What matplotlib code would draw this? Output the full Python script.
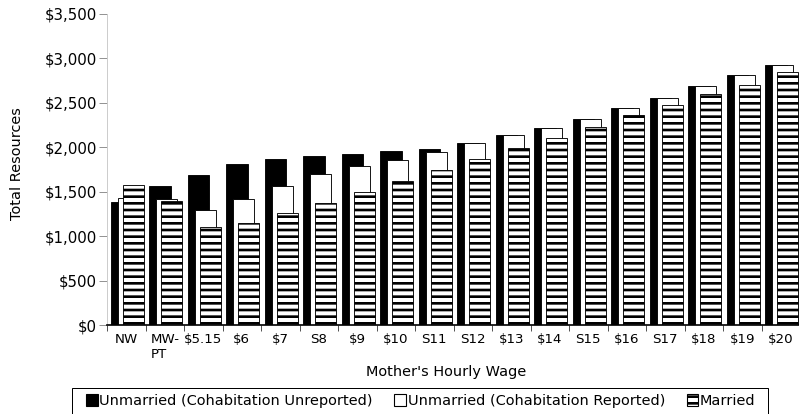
import matplotlib.pyplot as plt
import numpy as np
from matplotlib.patches import Patch, Rectangle
from matplotlib.ticker import FuncFormatter

plt.rcParams['font.family'] = 'DejaVu Sans'
plt.rcParams['hatch.linewidth'] = 2.4
plt.rcParams['hatch.color'] = 'black'

wages = ['NW', 'MW-\nPT', '$5.15', '$6', '$7', 'S8', '$9', '$10', 'S11', 'S12',
         '$13', '$14', 'S15', '$16', 'S17', '$18', '$19', '$20']
unreported = [1380, 1560, 1690, 1810, 1865, 1900, 1920, 1960, 1980, 2045,
              2135, 2220, 2315, 2445, 2555, 2690, 2810, 2925]
reported = [1430, 1420, 1295, 1415, 1565, 1700, 1790, 1855, 1950, 2045,
            2135, 2220, 2315, 2445, 2555, 2690, 2810, 2925]
married = [1580, 1400, 1100, 1150, 1255, 1375, 1500, 1615, 1740, 1865,
           1990, 2110, 2230, 2360, 2480, 2600, 2705, 2845]
series_names = ['Unmarried (Cohabitation Unreported)',
                'Unmarried (Cohabitation Reported)', 'Married']

W, H = 799, 414
fig = plt.figure(figsize=(W / 80, H / 80), dpi=80)
ax = fig.add_axes([107 / W, 89 / H, 693 / W, 311 / H])

x = np.arange(len(wages))
w = 0.55
ax.bar(x - 0.125, unreported, w, color='black', edgecolor='black', linewidth=0.8)
ax.bar(x + 0.055, reported, w, color='white', edgecolor='black', linewidth=0.8)
ax.bar(x + 0.185, married, w, color='white', edgecolor='black', hatch='--', linewidth=0.8)

ax.set_xlim(-0.5, len(wages) - 0.5)
ax.set_ylim(0, 3500)
ax.set_yticks(range(0, 3501, 500))
ax.yaxis.set_major_formatter(FuncFormatter(lambda v, p: '${:,.0f}'.format(v)))
ax.tick_params(axis='y', length=7, pad=2, color='#888888', labelsize=13.5)

ax.set_xticks(x)
ax.set_xticklabels(wages)
ax.get_xticklabels()[1].set_multialignment('left')
ax.set_xticks(np.arange(-0.5, len(wages), 1), minor=True)
ax.tick_params(axis='x', which='major', length=0, pad=7.5, labelsize=12)
ax.tick_params(axis='x', which='minor', length=5, color='black')

for s in ['top', 'right']:
    ax.spines[s].set_visible(False)
ax.spines['left'].set_color('#c8c8c8')
ax.spines['bottom'].set_linewidth(1.5)

fig.text(17.5 / W, 1 - 164 / H, 'Total Resources', rotation=90,
         ha='center', va='center', fontsize=13)
fig.text(446 / W, 1 - 372 / H, "Mother's Hourly Wage",
         ha='center', va='center', fontsize=13)

# legend box, open at the bottom edge of the image
fig.patches.append(Rectangle((72 / W, -0.01), 696 / W, 0.01 + 26 / H,
                             transform=fig.transFigure, facecolor='none',
                             edgecolor='black', linewidth=0.9))
handles = [Patch(facecolor='black', edgecolor='black'),
           Patch(facecolor='white', edgecolor='black'),
           Patch(facecolor='white', edgecolor='black', hatch='--')]
leg = fig.legend(handles, series_names, ncol=3, loc='center left',
                 bbox_to_anchor=(86 / W, 1 - 401 / H), frameon=False,
                 handlelength=0.8, handleheight=0.8, handletextpad=0.12,
                 columnspacing=1.5, borderpad=0, borderaxespad=0,
                 fontsize=13)

fig.savefig('out.png', dpi=80)
